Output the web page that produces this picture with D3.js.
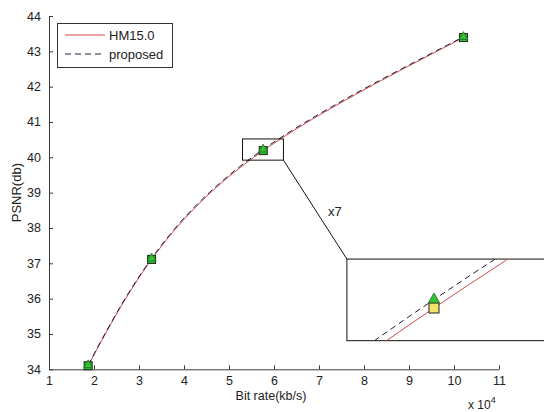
<!DOCTYPE html>
<html>
<head>
<meta charset="utf-8">
<script src="https://cdn.jsdelivr.net/npm/d3@7"></script>
<style>
  body { margin: 0; background: #fff; }
  svg { display: block; font-family: "Liberation Sans", Arial, sans-serif; }
</style>
</head>
<body>
<svg id="plot" width="544" height="412"></svg>
<script>
// bitrate in units of 1e4 kb/s
const bitrate = [1.87, 3.28, 5.76, 10.21];
const psnrHM = [34.10, 37.11, 40.19, 43.39];
const psnrProposed = [34.12, 37.14, 40.225, 43.41];
const xTicks = [1, 2, 3, 4, 5, 6, 7, 8, 9, 10, 11];
const yTicks = [34, 35, 36, 37, 38, 39, 40, 41, 42, 43, 44];
const seriesNames = ['HM15.0', 'proposed'];

const svg = d3.select('#plot');
const plotLeft = 49, plotRight = 499, plotTop = 16, plotBottom = 369.3;

const x = d3.scaleLinear().domain([1, 11]).range([plotLeft, plotRight]);
const y = d3.scaleLinear().domain([34, 44]).range([plotBottom, plotTop]);

const axisColor = '#3a3a3a';
const red = '#d24a4a';
const dark = '#1e1e3c';

// axes (ticks pointing inward)
const xAxis = svg.append('g')
  .attr('transform', `translate(0,${plotBottom})`)
  .call(d3.axisBottom(x).tickValues(xTicks).tickSizeInner(-4).tickSizeOuter(0).tickPadding(7));
const yAxis = svg.append('g')
  .attr('transform', `translate(${plotLeft},0)`)
  .call(d3.axisLeft(y).tickValues(yTicks).tickSizeInner(-4).tickSizeOuter(0).tickPadding(8));
[xAxis, yAxis].forEach(a => {
  a.select('.domain').attr('stroke', axisColor);
  a.selectAll('.tick line').attr('stroke', axisColor);
  a.selectAll('.tick text').attr('fill', '#222').style('font-size', '12.5px')
    .style('font-family', '"Liberation Sans", Arial, sans-serif');
});

svg.append('text')
  .attr('x', (plotLeft + plotRight) / 2 - 3).attr('y', 400)
  .attr('text-anchor', 'middle').attr('fill', '#222').style('font-size', '12.5px')
  .text('Bit rate(kb/s)');

const exp = svg.append('text')
  .attr('x', 468).attr('y', 409).attr('fill', '#222').style('font-size', '12px');
exp.append('tspan').text('x 10');
exp.append('tspan').attr('dy', -6).style('font-size', '9px').text('4');

svg.append('text')
  .attr('transform', `translate(21,${(plotTop + plotBottom) / 2}) rotate(-90)`)
  .attr('text-anchor', 'middle').attr('fill', '#222').style('font-size', '13px')
  .text('PSNR(db)');

function drawSeries(g, sx, sy, markerSize, squareFill) {
  const line = (vals) => d3.line()
    .x((d, i) => sx(bitrate[i]))
    .y(d => sy(d))
    .curve(d3.curveNatural)(vals);

  g.append('path').attr('d', line(psnrHM))
    .attr('fill', 'none').attr('stroke', red).attr('stroke-width', 1);
  g.append('path').attr('d', line(psnrProposed))
    .attr('fill', 'none').attr('stroke', dark).attr('stroke-width', 1)
    .attr('stroke-dasharray', '6,4');

  g.selectAll('rect.hm').data(psnrHM).enter().append('rect')
    .attr('class', 'hm')
    .attr('x', (d, i) => sx(bitrate[i]) - markerSize / 2)
    .attr('y', d => sy(d) - markerSize / 2)
    .attr('width', markerSize).attr('height', markerSize)
    .attr('fill', squareFill).attr('stroke', '#222').attr('stroke-width', 1);

  const tri = d3.symbol().type(d3.symbolTriangle).size(markerSize * markerSize * 0.55);
  g.selectAll('path.pr').data(psnrProposed).enter().append('path')
    .attr('class', 'pr')
    .attr('d', tri)
    .attr('transform', (d, i) => `translate(${sx(bitrate[i])},${sy(d)})`)
    .attr('fill', '#33c033').attr('stroke', '#226622').attr('stroke-width', 0.8);
}

// main curves
drawSeries(svg.append('g'), x, y, 8, '#33c033');

// zoom box around the third point
const zx = [5.30, 6.21], zy = [39.92, 40.52];
svg.append('rect')
  .attr('x', x(zx[0])).attr('y', y(zy[1]))
  .attr('width', x(zx[1]) - x(zx[0])).attr('height', y(zy[0]) - y(zy[1]))
  .attr('fill', 'none').attr('stroke', '#111').attr('stroke-width', 1);

// inset box (data coordinates of the main axes)
const ix = [7.62, 12.2], iy = [34.81, 37.12];
const insetX0 = x(ix[0]), insetX1 = x(ix[1]), insetY0 = y(iy[1]), insetY1 = y(iy[0]);

svg.append('line')
  .attr('x1', x(zx[1])).attr('y1', y(zy[0]))
  .attr('x2', insetX0).attr('y2', insetY0)
  .attr('stroke', '#111').attr('stroke-width', 1);

svg.append('text')
  .attr('x', 328).attr('y', 216).attr('fill', '#222').style('font-size', '13px')
  .text('x7');

svg.append('rect')
  .attr('x', insetX0).attr('y', insetY0)
  .attr('width', insetX1 - insetX0).attr('height', insetY1 - insetY0)
  .attr('fill', '#fff').attr('stroke', '#111').attr('stroke-width', 1);

svg.append('clipPath').attr('id', 'insetClip')
  .append('rect')
  .attr('x', insetX0).attr('y', insetY0)
  .attr('width', insetX1 - insetX0).attr('height', insetY1 - insetY0);

// inset scales: magnified around the third HM point
const cx = bitrate[2], cy = psnrHM[2];
const kx = 315, ky = 240;
const px = 434, py = 308;
const sxIn = d3.scaleLinear().domain([cx, cx + 1]).range([px, px + kx]);
const syIn = d3.scaleLinear().domain([cy, cy + 1]).range([py, py - ky]);

drawSeries(svg.append('g').attr('clip-path', 'url(#insetClip)'), sxIn, syIn, 10, '#f3e36a');

// legend
const legend = svg.append('g');
legend.append('rect')
  .attr('x', 57.5).attr('y', 23.5).attr('width', 115).attr('height', 44)
  .attr('fill', '#fff').attr('stroke', '#333').attr('stroke-width', 1);
const rows = [{ y: 35, color: red, dash: null }, { y: 54, color: dark, dash: '6,4' }];
rows.forEach((r, i) => {
  legend.append('line')
    .attr('x1', 65).attr('x2', 105).attr('y1', r.y).attr('y2', r.y)
    .attr('stroke', r.color).attr('stroke-width', 1)
    .attr('stroke-dasharray', r.dash);
  legend.append('text')
    .attr('x', 109).attr('y', r.y + 4.5).attr('fill', '#222').style('font-size', '13px')
    .text(seriesNames[i]);
});
</script>
</body>
</html>
